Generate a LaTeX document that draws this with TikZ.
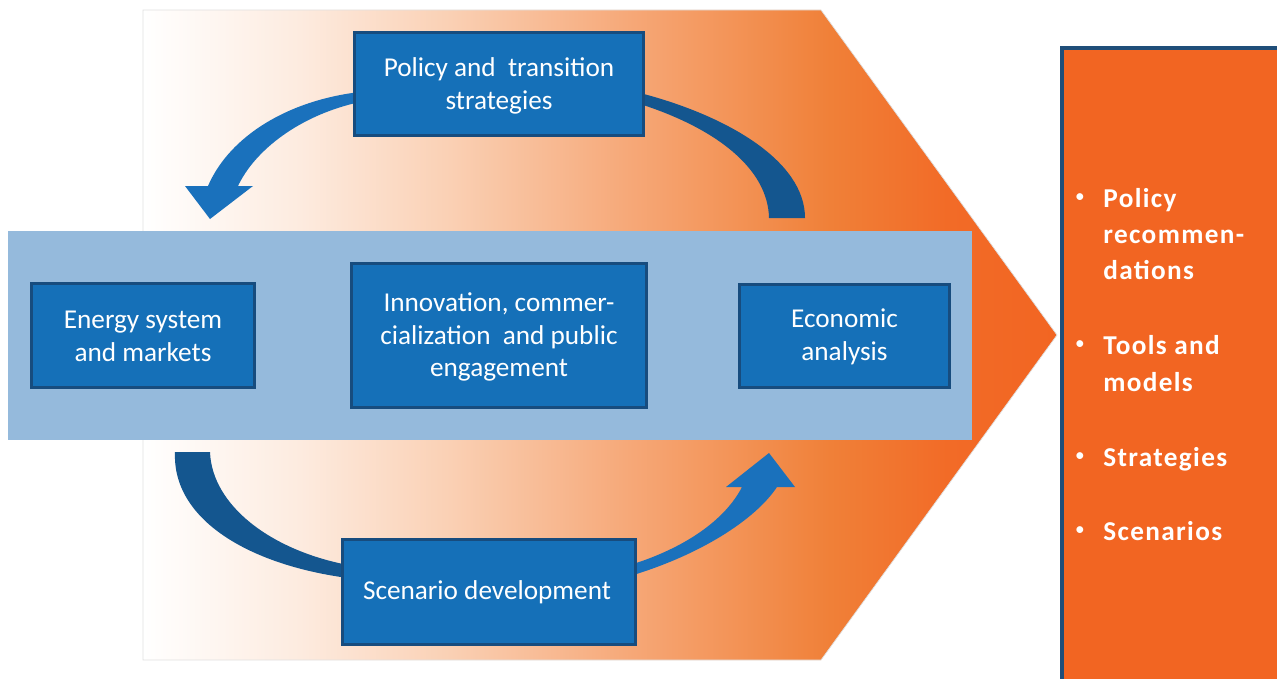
\documentclass[tikz,border=0pt]{standalone}
\usepackage{fontspec}
\setmainfont{Carlito}
\newfontfamily\widefont[LetterSpace=5]{Carlito}
\definecolor{bandblue}{HTML}{95BADC}
\definecolor{boxblue}{HTML}{1570B8}
\definecolor{boxedge}{HTML}{174C7E}
\definecolor{arrlight}{HTML}{1A71BC}
\definecolor{arrdark}{HTML}{14568F}
\definecolor{outorange}{HTML}{F26522}
\definecolor{outedge}{HTML}{1F4E79}
\definecolor{ga}{HTML}{FDEBDF}
\definecolor{gb}{HTML}{FAD0B4}
\definecolor{gc}{HTML}{F6A878}
\definecolor{gd}{HTML}{F08038}
\definecolor{ge}{HTML}{F26B27}
\pgfdeclarehorizontalshading{chevshade}{100bp}{color(0bp)=(white); color(25bp)=(white); color(33.6bp)=(ga); color(41.8bp)=(gb); color(51.6bp)=(gc); color(62.6bp)=(gd); color(69bp)=(ge); color(75bp)=(outorange); color(100bp)=(outorange)}
\tikzset{
  bluebox/.style={draw=boxedge, line width=0.06cm, fill=boxblue, text=white, align=center,
    font=\fontsize{15.5}{18.5}\selectfont, inner sep=0pt},
  boxtext/.style={text=white, align=center, font=\fontsize{15.5}{18.5}\selectfont, inner sep=0pt},
  outtext/.style={text=white, font=\widefont\bfseries\fontsize{15.5}{18}\selectfont, anchor=base west, inner sep=0pt},
  bulletmark/.style={text=white, font=\fontsize{11}{12}\selectfont, anchor=base, inner sep=0pt}
}
\begin{document}
\begin{tikzpicture}[x=0.02cm,y=-0.02cm]
\useasboundingbox (0,0) rectangle (1277,679);
% chevron background
\path[shading=chevshade, draw=black!12, line width=0.4pt]
  (143,10) -- (821,10) -- (1057,335) -- (821,660) -- (143,660) -- cycle;
% light blue band
\fill[bandblue] (8,231) rectangle (972,440);
% arrows
\fill[arrlight] (360,92) .. controls (290,100) and (230,135) .. (208,186)
  -- (185,186) -- (210,219) -- (253,186) -- (238,186)
  .. controls (255,150) and (300,115) .. (360,102) -- cycle;
\fill[arrdark] (640,93) .. controls (725,115) and (805,160) .. (805,218)
  -- (769,218) .. controls (768,168) and (715,128) .. (640,104) -- cycle;
\fill[arrdark] (175,452) -- (210,452) .. controls (212,505) and (270,550) .. (348,565)
  -- (348,578) .. controls (250,565) and (172,520) .. (175,452) -- cycle;
\fill[arrlight] (630,576) .. controls (700,555) and (755,520) .. (777,487)
  -- (795,487) -- (769,453) -- (726,487) -- (742,487)
  .. controls (725,520) and (685,548) .. (630,565) -- cycle;
% boxes
\node[bluebox, minimum width=5.8cm, minimum height=2.08cm] (policy) at (499,84) {};
\node[boxtext] (policyt) at (499,86) {Policy and~ transition\\strategies};
\node[bluebox, minimum width=4.48cm, minimum height=2.1cm] (energy) at (143,335.5) {};
\node[boxtext] (energyt) at (143,336.5) {Energy system\\and markets};
\node[bluebox, minimum width=5.92cm, minimum height=2.9cm] (innov) at (499,335.5) {};
\node[boxtext] (innovt) at (499,337) {Innovation, commer-\\cialization~ and public\\engagement};
\node[bluebox, minimum width=4.22cm, minimum height=2.08cm] (econ) at (844.5,336) {};
\node[boxtext] (econt) at (844.5,337) {Economic\\analysis};
\node[bluebox, minimum width=5.88cm, minimum height=2.12cm] (scen) at (489,592) {};
\node[boxtext] (scent) at (487,592) {Scenario development};
% output box
\node[draw=outedge, fill=outorange, line width=0.08cm, anchor=north west, minimum width=5cm, minimum height=13.5cm, inner sep=0pt] (out) at (1060,46) {};
\node[bulletmark] (b1) at (1080,202) {•};
\node[outtext] (t1a) at (1103,207) {Policy};
\node[outtext] (t1b) at (1103,243) {recommen-};
\node[outtext] (t1c) at (1103,279) {dations};
\node[bulletmark] (b2) at (1080,349) {•};
\node[outtext] (t2a) at (1103,354) {Tools and};
\node[outtext] (t2b) at (1103,391) {models};
\node[bulletmark] (b3) at (1080,461) {•};
\node[outtext] (t3) at (1103,466) {Strategies};
\node[bulletmark] (b4) at (1080,535) {•};
\node[outtext] (t4) at (1103,540) {Scenarios};
\end{tikzpicture}
\end{document}
